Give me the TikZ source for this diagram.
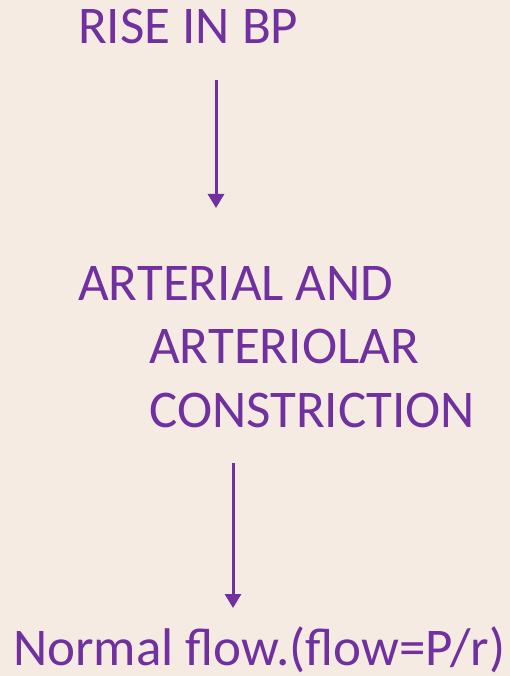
\documentclass[tikz,border=0pt]{standalone}
\usepackage{fontspec}
\setmainfont{Carlito}
\usetikzlibrary{arrows.meta}
\definecolor{bgc}{RGB}{245,235,227}
\definecolor{purp}{RGB}{112,48,160}
\begin{document}
\begin{tikzpicture}[x=1pt,y=1pt,
  txt/.style={inner sep=0pt, anchor=base west, text=purp, font=\fontsize{53}{63.5}\selectfont, align=left},
  arr/.style={draw=purp, line width=3pt, -{Triangle[width=16pt,length=14pt]}}]
\fill[bgc] (0,0) rectangle (510,-676);
\useasboundingbox (0,0) rectangle (510,-676);
\node[txt] (rise) at (78,-44) {RISE IN BP};
\node[txt] (mid) at (78,-427) {ARTERIAL AND\\\hspace{71pt}ARTERIOLAR\\\hspace{71pt}CONSTRICTION};
\node[txt] (flow) at (13,-665) {Normal flow.(flow=P/r)};
\coordinate (a1s) at (216,-80);
\coordinate (a1e) at (216,-208);
\coordinate (a2s) at (233,-463);
\coordinate (a2e) at (233,-608);
\draw[arr] (a1s) -- (a1e);
\draw[arr] (a2s) -- (a2e);
\end{tikzpicture}
\end{document}
